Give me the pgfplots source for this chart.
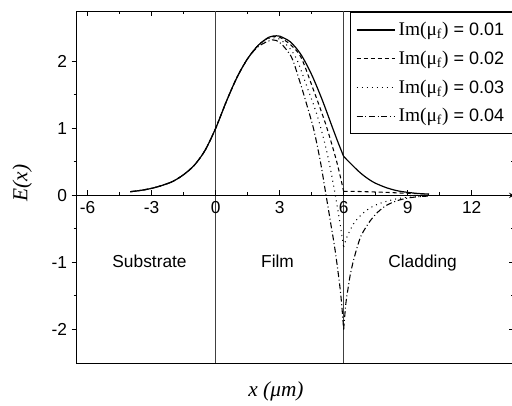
\documentclass[border=0pt]{standalone}
\usepackage{fontspec}
\setmainfont{Liberation Sans}
\newfontfamily\tnr{Liberation Serif}
\usepackage{pgfplots}
\pgfplotsset{compat=1.18}

\begin{document}
\begin{tikzpicture}
\pgfplotsset{
  base/.style={scale only axis, width=328pt, height=264pt,
    xmin=-6.5, xmax=14, ymin=-2.5, ymax=2.75,
    axis line style={line width=0.75pt, -},
    tick style={line width=0.75pt, black},
    major tick length=4pt, minor tick length=2.5pt,
    tick label style={font=\fontsize{13}{15}\selectfont}},
}
% main box: data, legend, top and right ticks (inward)
\begin{axis}[base, clip mode=individual,
  xtick={-6,-3,0,3,6,9,12}, minor x tick num=1, xtick pos=right, xticklabels={},
  ytick={-2,-1,0,1,2}, minor y tick num=1, ytick pos=right, yticklabels={},
  tick align=inside,
  legend cell align=left,
  legend style={at={(axis description cs:0.996,0.996)}, anchor=north east,
    draw=black, line width=0.75pt, font=\fontsize{13.5}{15}\selectfont,
    inner xsep=4pt, inner ysep=5pt, row sep=6pt},
  legend image code/.code={\draw[#1] (0pt,0pt) -- (29pt,0pt);},
]
\draw[black!75, line width=0.75pt] (axis cs:0,-2.5) -- (axis cs:0,2.75);
\draw[black!75, line width=0.75pt] (axis cs:6,-2.5) -- (axis cs:6,2.75);

% film + substrate parts
\addplot[black, line width=0.9pt, smooth, tension=0.5] coordinates {
  (-4,0.055)(-3.5,0.075)(-3,0.105)(-2.5,0.15)(-2,0.21)(-1.5,0.31)(-1,0.45)(-0.5,0.67)
  (0,1.00)(0.5,1.40)(1,1.76)(1.5,2.04)(2,2.24)(2.5,2.36)(2.85,2.38)(3,2.375)
  (3.5,2.29)(4,2.10)(4.5,1.80)(5,1.42)(5.5,0.99)(5.75,0.78)(6,0.58)};
\addlegendentry{{\tnr\fontsize{14.5}{15}\selectfont Im(μ\textsubscript{f})} = 0.01}
\addplot[black, line width=0.8pt, dash pattern=on 3pt off 2.25pt, smooth, tension=0.5] coordinates {
  (-4,0.055)(-3.5,0.075)(-3,0.105)(-2.5,0.15)(-2,0.21)(-1.5,0.31)(-1,0.45)(-0.5,0.67)
  (0,1.00)(0.5,1.40)(1,1.76)(1.5,2.04)(2,2.24)(2.5,2.355)(2.8,2.37)(3,2.36)
  (3.5,2.25)(4,2.06)(4.6,1.56)(5.15,1.07)(5.6,0.59)(5.8,0.34)(6,0.06)};
\addlegendentry{{\tnr\fontsize{14.5}{15}\selectfont Im(μ\textsubscript{f})} = 0.02}
\addplot[black, line width=0.8pt, dash pattern=on 0.75pt off 3pt, smooth, tension=0.5] coordinates {
  (-4,0.055)(-3.5,0.075)(-3,0.105)(-2.5,0.15)(-2,0.21)(-1.5,0.31)(-1,0.45)(-0.5,0.67)
  (0,1.00)(0.5,1.40)(1,1.76)(1.5,2.04)(2,2.24)(2.5,2.34)(2.75,2.35)(3,2.33)
  (3.4,2.22)(3.8,2.03)(4.35,1.56)(4.7,1.25)(5,0.92)(5.3,0.52)(5.6,0.02)(5.8,-0.36)(6,-0.77)};
\addlegendentry{{\tnr\fontsize{14.5}{15}\selectfont Im(μ\textsubscript{f})} = 0.03}
\addplot[black, line width=0.8pt, dash pattern=on 4.5pt off 2pt on 0.75pt off 2pt, smooth, tension=0.5] coordinates {
  (-4,0.055)(-3.5,0.075)(-3,0.105)(-2.5,0.15)(-2,0.21)(-1.5,0.31)(-1,0.45)(-0.5,0.67)
  (0,1.00)(0.5,1.40)(1,1.76)(1.5,2.04)(2,2.22)(2.65,2.32)(3,2.28)
  (3.3,2.18)(3.6,2.03)(4,1.64)(4.3,1.32)(4.6,0.98)(4.9,0.52)(5.15,0.05)
  (5.4,-0.43)(5.6,-0.82)(5.8,-1.30)(5.9,-1.60)(6,-2.0)};
\addlegendentry{{\tnr\fontsize{14.5}{15}\selectfont Im(μ\textsubscript{f})} = 0.04}

% cladding parts
\addplot[forget plot, black, line width=0.9pt, smooth, tension=0.5] coordinates {
  (6,0.58)(6.25,0.50)(6.5,0.42)(6.75,0.345)(7,0.28)(7.25,0.225)(7.5,0.18)
  (8,0.115)(8.5,0.07)(9,0.045)(9.5,0.028)(10,0.018)};
\addplot[forget plot, black, line width=0.8pt, dash pattern=on 3pt off 2.25pt, smooth, tension=0.5] coordinates {
  (6,0.06)(6.5,0.06)(7,0.055)(8,0.045)(9,0.03)(10,0.02)};
\addplot[forget plot, black, line width=0.8pt, dash pattern=on 0.75pt off 3pt, smooth, tension=0.5] coordinates {
  (6,-0.77)(6.13,-0.64)(6.3,-0.52)(6.43,-0.44)(6.7,-0.33)(7,-0.24)(7.22,-0.19)
  (7.6,-0.13)(8,-0.09)(8.5,-0.05)(9,-0.03)(10,-0.01)};
\addplot[forget plot, black, line width=0.8pt, dash pattern=on 4.5pt off 2pt on 0.75pt off 2pt, smooth, tension=0.5] coordinates {
  (6,-2.0)(6.1,-1.62)(6.2,-1.40)(6.3,-1.20)(6.43,-1.01)(6.6,-0.81)(6.82,-0.60)
  (7.22,-0.39)(7.6,-0.25)(8,-0.15)(8.5,-0.08)(9,-0.04)(9.5,-0.02)(10,-0.01)};

\node[font=\fontsize{13}{15}\selectfont, anchor=base] at (axis cs:-3.1,-1.08) {Substrate};
\node[font=\fontsize{13}{15}\selectfont, anchor=base] at (axis cs:2.9,-1.08) {Film};
\node[font=\fontsize{13}{15}\selectfont, anchor=base] at (axis cs:9.7,-1.08) {Cladding};
\node[font=\tnr\itshape\fontsize{16}{18}\selectfont] at (axis description cs:0.455,-0.08) {x (μm)};
\node[font=\tnr\itshape\fontsize{16}{18}\selectfont, rotate=90] at (axis description cs:-0.125,0.511) {E(x)};
\end{axis}

% left y axis, outward ticks with labels
\begin{axis}[base, axis x line=none, axis y line*=left,
  ytick={-2,-1,0,1,2}, minor y tick num=1, tick align=outside,
  yticklabels={-2,-1,0,1,2}]
\end{axis}

% x axis along y = 0
\begin{axis}[base, axis y line=none, axis x line=middle,
  xtick={-6,-3,0,3,6,9,12}, minor x tick num=1, tick align=inside,
  xticklabels={-6,-3,0,3,6,9,12},
  xticklabel style={anchor=north, yshift=-1pt}]
\end{axis}

\pgfresetboundingbox
\useasboundingbox (-57.75pt,-31.5pt) rectangle (326.25pt,272.25pt);
\end{tikzpicture}
\end{document}
